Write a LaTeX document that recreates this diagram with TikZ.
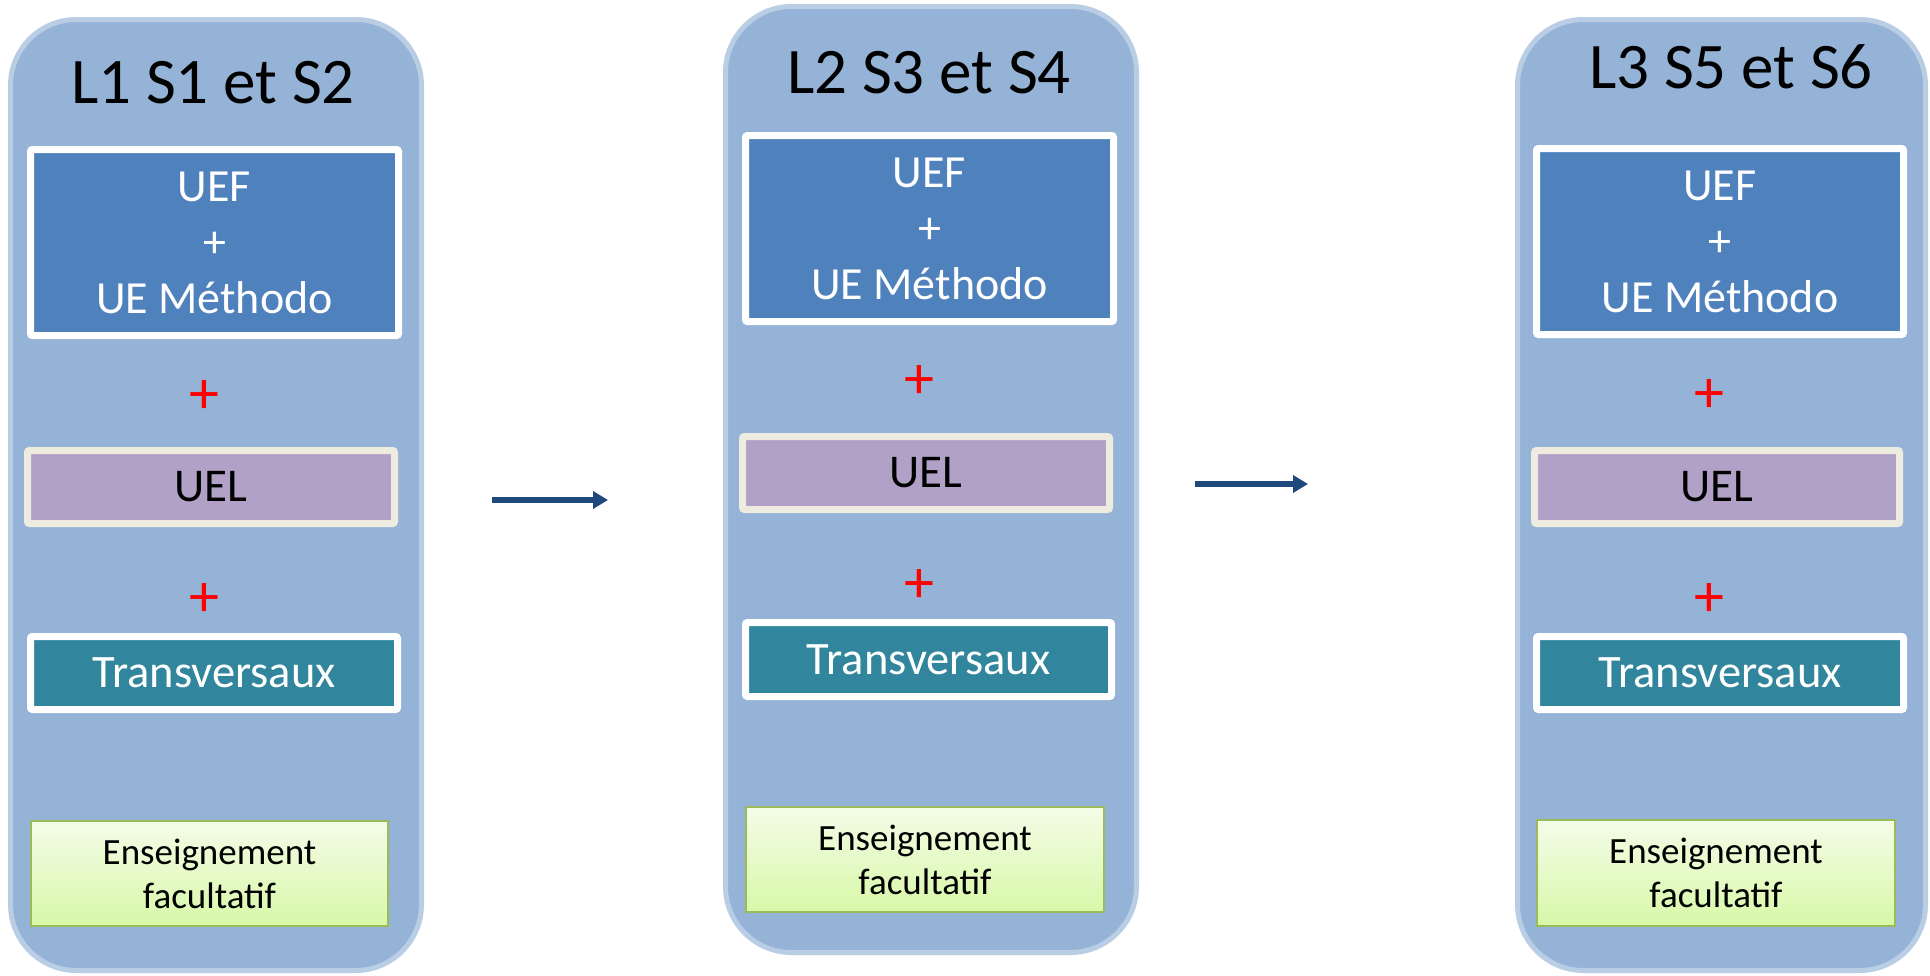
\documentclass[tikz,border=0pt]{standalone}
\usepackage{fontspec}
\setmainfont{Carlito}
\usetikzlibrary{arrows.meta}
\definecolor{panelfill}{HTML}{95B3D7}
\definecolor{panelline}{HTML}{B9CDE5}
\definecolor{uefc}{HTML}{4F81BD}
\definecolor{uelc}{HTML}{B2A1C7}
\definecolor{uell}{HTML}{EEECE1}
\definecolor{trc}{HTML}{31859C}
\definecolor{enstop}{HTML}{F4FCE8}
\definecolor{ensbot}{HTML}{D8F8A8}
\definecolor{ensline}{HTML}{9BBB59}
\definecolor{arrowc}{HTML}{1F497D}
\definecolor{plusred}{HTML}{FF0000}
\tikzset{
  panel/.style={draw=panelline, fill=panelfill, line width=5pt, rounded corners=66pt, inner sep=0pt},
  titletext/.style={anchor=base, inner sep=0pt, font=\fontsize{65}{72}\selectfont},
  uefbox/.style={draw=white, fill=uefc, line width=7pt, rounded corners=2pt, inner sep=0pt, text=white, align=center, font=\fontsize{46}{56}\selectfont},
  uelbox/.style={draw=uell, fill=uelc, line width=7pt, rounded corners=2pt, inner sep=0pt, text=black, align=center, font=\fontsize{47}{56}\selectfont},
  trbox/.style={draw=white, fill=trc, line width=7pt, rounded corners=2pt, inner sep=0pt, text=white, align=center, font=\fontsize{46.5}{56}\selectfont},
  ensbox/.style={draw=ensline, top color=enstop, bottom color=ensbot, line width=2pt, inner sep=0pt, text=black, align=center, font=\fontsize{37}{44}\selectfont},
  redplus/.style={text=plusred, inner sep=0pt, font=\fontsize{60}{60}\selectfont},
  flowarrow/.style={draw=arrowc, line width=6pt, -{Triangle[length=15pt,width=17pt]}}
}
\begin{document}
\begin{tikzpicture}[x=1pt,y=-1pt]
\useasboundingbox (0,0) rectangle (1930,975);
% Panel 1
\node[panel, minimum width=411pt, minimum height=951pt] (p1) at (216,495) {};
\node[titletext] (t1) at (213,103) {L1 S1 et S2};
\node[uefbox, minimum width=368pt, minimum height=186pt] (uef1) at (214.5,242.5) {UEF\\+\\UE Méthodo};
\node[redplus] (pa1) at (204,397) {+};
\node[uelbox, minimum width=367pt, minimum height=73pt] (uel1) at (211,487) {UEL};
\node[redplus] (pb1) at (204,600) {+};
\node[trbox, minimum width=367pt, minimum height=73pt] (tr1) at (214,673) {Transversaux};
\node[ensbox, minimum width=357pt, minimum height=105pt] (en1) at (209.5,873.5) {Enseignement\\facultatif};
% Panel 2
\node[panel, minimum width=411pt, minimum height=946pt] (p2) at (931,479.5) {};
\node[titletext] (t2) at (929,93) {L2 S3 et S4};
\node[uefbox, minimum width=368pt, minimum height=186pt] (uef2) at (929.5,228.5) {UEF\\+\\UE Méthodo};
\node[redplus] (pa2) at (919,382) {+};
\node[uelbox, minimum width=367pt, minimum height=73pt] (uel2) at (926,473) {UEL};
\node[redplus] (pb2) at (919,586) {+};
\node[trbox, minimum width=366pt, minimum height=74pt] (tr2) at (928.5,659.5) {Transversaux};
\node[ensbox, minimum width=358pt, minimum height=105pt] (en2) at (925,859.5) {Enseignement\\facultatif};
% Panel 3
\node[panel, minimum width=408pt, minimum height=951pt] (p3) at (1721.5,495) {};
\node[titletext] (t3) at (1731,88) {L3 S5 et S6};
\node[uefbox, minimum width=367pt, minimum height=186pt] (uef3) at (1720,241.5) {UEF\\+\\UE Méthodo};
\node[redplus] (pa3) at (1709,396) {+};
\node[uelbox, minimum width=365pt, minimum height=73pt] (uel3) at (1717,487) {UEL};
\node[redplus] (pb3) at (1709,600) {+};
\node[trbox, minimum width=367pt, minimum height=73pt] (tr3) at (1720,673) {Transversaux};
\node[ensbox, minimum width=358pt, minimum height=106pt] (en3) at (1716,873) {Enseignement\\facultatif};
% Arrows
\coordinate (a1s) at (492,500);
\coordinate (a1e) at (608,500);
\coordinate (a2s) at (1195,484);
\coordinate (a2e) at (1308,484);
\draw[flowarrow] (a1s) -- (a1e);
\draw[flowarrow] (a2s) -- (a2e);
\end{tikzpicture}
\end{document}
